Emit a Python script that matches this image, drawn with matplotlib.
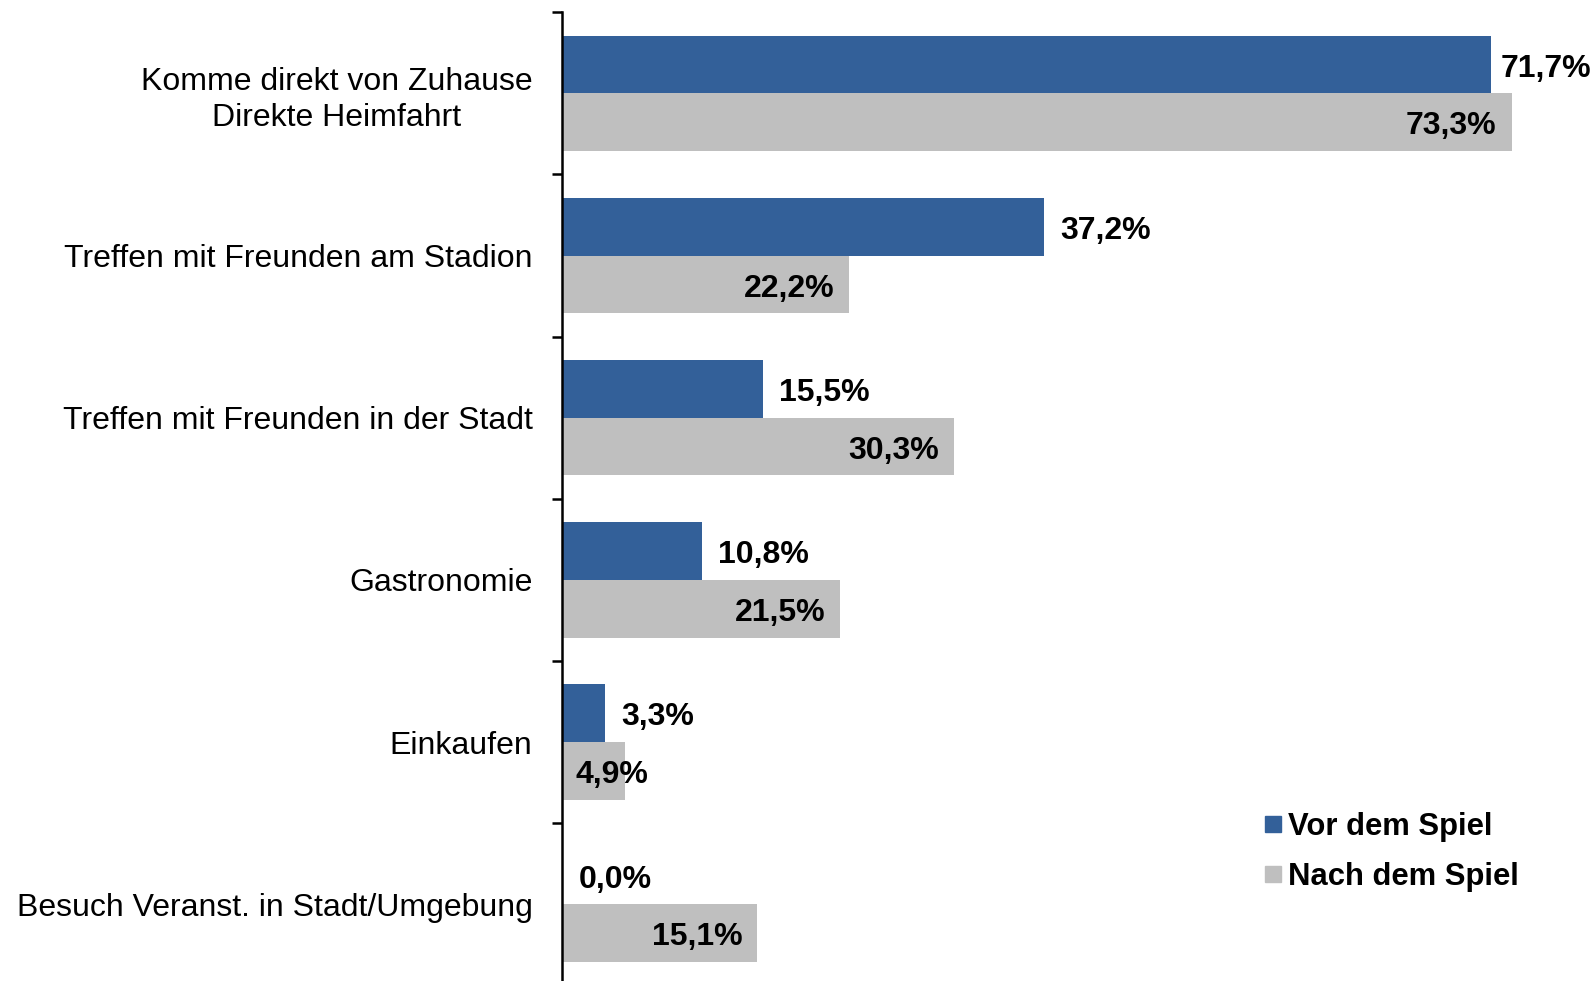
import matplotlib
matplotlib.use("Agg")
import matplotlib.pyplot as plt
from matplotlib.lines import Line2D

plt.rcParams['font.family'] = ['Liberation Sans', 'DejaVu Sans']

categories = ['Komme direkt von Zuhause\nDirekte Heimfahrt',
              'Treffen mit Freunden am Stadion',
              'Treffen mit Freunden in der Stadt',
              'Gastronomie',
              'Einkaufen',
              'Besuch Veranst. in Stadt/Umgebung']
vor = [71.7, 37.2, 15.5, 10.8, 3.3, 0.0]
nach = [73.3, 22.2, 30.3, 21.5, 4.9, 15.1]
series_names = ['Vor dem Spiel', 'Nach dem Spiel']

blue = '#336099'
gray = '#BFBFBF'

fig = plt.figure(figsize=(15.95, 9.81), dpi=100)
ax = fig.add_axes([0.3522, -0.0046, 0.650, 0.9922])

n = len(categories)
h = 0.356
pos = list(range(n))
b1 = ax.barh([p - h / 2 for p in pos], vor, height=h, color=blue)
b2 = ax.barh([p + h / 2 for p in pos], nach, height=h, color=gray)

ax.set_xlim(0, 80)
ax.set_ylim(n - 0.5, -0.5)

# Datenbeschriftungen
fs = 23
dy = -3
for rect, v in zip(b1, vor):
    y = rect.get_y() + rect.get_height() / 2
    ax.annotate(f'{v:.1f}%'.replace('.', ','), (v, y), xytext=(7 if v > 60 else 12, dy),
                textcoords='offset points', ha='left', va='center',
                fontsize=fs, fontweight='bold', annotation_clip=False)
for rect, v in zip(b2, nach):
    y = rect.get_y() + rect.get_height() / 2
    if v < 8:
        ax.annotate(f'{v:.1f}%'.replace('.', ','), (0, y), xytext=(10, dy),
                    textcoords='offset points', ha='left', va='center',
                    fontsize=fs, fontweight='bold')
    else:
        ax.annotate(f'{v:.1f}%'.replace('.', ','), (v, y), xytext=(-11, dy),
                    textcoords='offset points', ha='right', va='center',
                    fontsize=fs, fontweight='bold')

ax.set_yticks(pos)
ax.set_yticklabels(categories, fontsize=fs)
first = ax.get_yticklabels()[0]
first.set_multialignment('center')
first.set_linespacing(1.28)
ax.tick_params(axis='y', which='major', length=0, pad=21)
ax.set_yticks([p - 0.5 for p in range(n + 1)], minor=True)
ax.tick_params(axis='y', which='minor', length=7, width=1.8, direction='out')
ax.set_xticks([])
for s in ['top', 'right', 'bottom']:
    ax.spines[s].set_visible(False)
ax.spines['left'].set_linewidth(1.8)

handles = [Line2D([], [], marker='s', linestyle='', color=blue, markersize=11),
           Line2D([], [], marker='s', linestyle='', color=gray, markersize=11)]
leg = fig.legend(handles, series_names, loc='upper left', bbox_to_anchor=(0.7755, 0.201),
                 frameon=False, handlelength=0.55, handletextpad=0.2, labelspacing=0.66,
                 prop={'size': 22.3, 'weight': 'bold'})

fig.savefig('out.png', dpi=100)
